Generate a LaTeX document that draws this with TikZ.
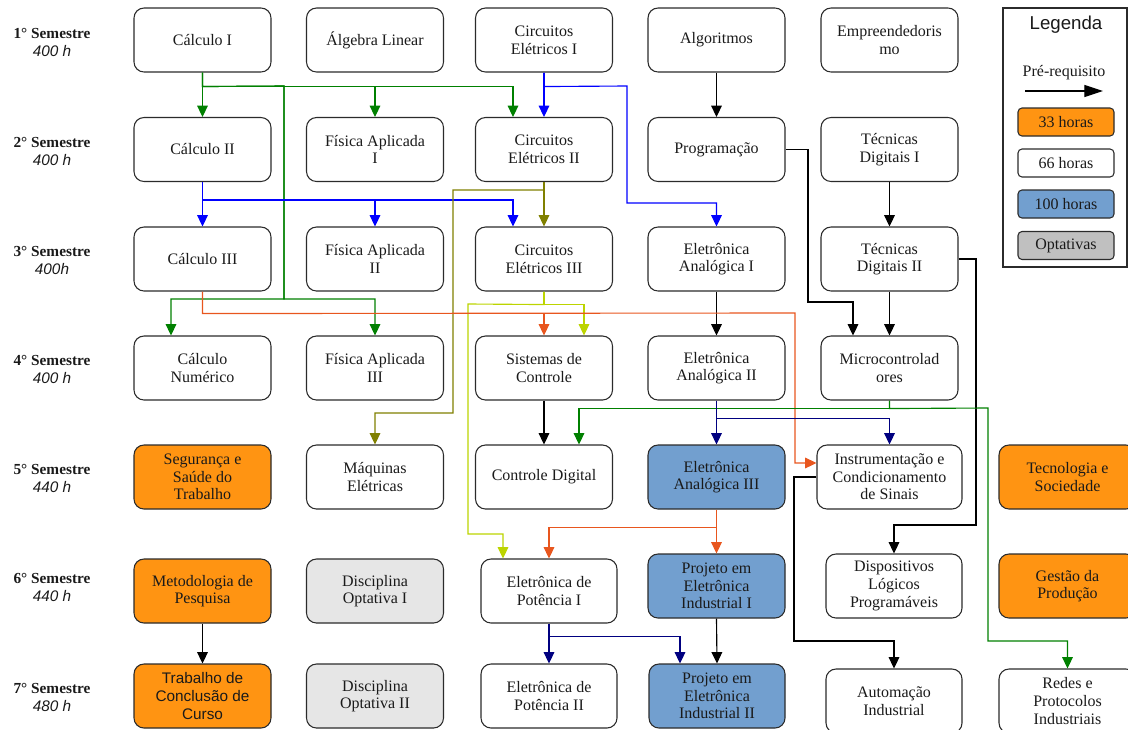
\documentclass[tikz,border=0pt]{standalone}
\usepackage{fontspec}
\setmainfont{Liberation Serif}
\newfontfamily\sansf{Liberation Sans}
\usetikzlibrary{arrows.meta,calc}
\definecolor{boxc}{HTML}{2B2B2B}
\definecolor{orangef}{HTML}{FF9412}
\definecolor{bluef}{HTML}{729FCF}
\definecolor{optf}{HTML}{E6E6E6}
\definecolor{optleg}{HTML}{C0C0C0}
\definecolor{cgrn}{HTML}{008000}
\definecolor{cblu}{HTML}{0000FF}
\definecolor{coli}{HTML}{808000}
\definecolor{cylg}{HTML}{BCD400}
\definecolor{cred}{HTML}{E8561E}
\definecolor{cnavy}{HTML}{000080}
\definecolor{txt}{HTML}{1A1A1A}
\tikzset{
  box/.style={draw=boxc, line width=0.8pt, rounded corners=7.5pt, fill=white,
    minimum width=102.75pt, minimum height=48pt, align=center, inner sep=1pt,
    text=txt, font=\fontsize{12pt}{13.2pt}\selectfont},
  sz/.style 2 args={minimum width=#1*0.75pt, minimum height=#2*0.75pt},
  obox/.style={box, fill=orangef},
  bbox/.style={box, fill=bluef},
  gbox/.style={box, fill=optf},
  conn/.style={line width=0.85pt, -{Triangle[length=8.5pt,width=8pt]}},
  semlab/.style={align=center, inner sep=0pt, text=txt, font=\fontsize{11.5pt}{13.5pt}\selectfont},
  legitem/.style={draw=boxc, line width=0.8pt, rounded corners=3pt, minimum width=72pt,
    minimum height=21pt, inner sep=0pt, text=txt, font=\fontsize{12pt}{13pt}\selectfont},
}
\begin{document}
\begin{tikzpicture}[x=0.75pt, y=-0.75pt]
\useasboundingbox (0,0) rectangle (1128,729);

% semester labels
\node[semlab] (s1) at (52,42) {\textbf{1° Semestre}\\{\sansf\itshape 400 h}};
\node[semlab] (s2) at (52,151) {\textbf{2° Semestre}\\{\sansf\itshape 400 h}};
\node[semlab] (s3) at (52,260) {\textbf{3° Semestre}\\{\sansf\itshape 400h}};
\node[semlab] (s4) at (52,369) {\textbf{4° Semestre}\\{\sansf\itshape 400 h}};
\node[semlab] (s5) at (52,478) {\textbf{5° Semestre}\\{\sansf\itshape 440 h}};
\node[semlab] (s6) at (52,587) {\textbf{6° Semestre}\\{\sansf\itshape 440 h}};
\node[semlab] (s7) at (52,697) {\textbf{7° Semestre}\\{\sansf\itshape 480 h}};

% row 1
\node[box] (calc1) at (202.5,40) {Cálculo I};
\node[box] (alg) at (375,40) {Álgebra Linear};
\node[box] (ce1) at (544,40) {Circuitos\\Elétricos I};
\node[box] (algo) at (716.5,40) {Algoritmos};
\node[box] (emp) at (889.5,40) {Empreendedoris\\mo};
% row 2
\node[box] (calc2) at (202.5,149.5) {Cálculo II};
\node[box] (fa1) at (375,149.5) {Física Aplicada\\I};
\node[box] (ce2) at (544,149.5) {Circuitos\\Elétricos II};
\node[box] (prog) at (716.5,149.5) {Programação};
\node[box] (td1) at (889.5,149.5) {Técnicas\\Digitais I};
% row 3
\node[box] (calc3) at (202.5,259) {Cálculo III};
\node[box] (fa2) at (375,259) {Física Aplicada\\II};
\node[box] (ce3) at (544,259) {Circuitos\\Elétricos III};
\node[box] (ea1) at (716.5,259) {Eletrônica\\Analógica I};
\node[box] (td2) at (889.5,259) {Técnicas\\Digitais II};
% row 4
\node[box] (cn) at (202.5,368) {Cálculo\\Numérico};
\node[box] (fa3) at (375,368) {Física Aplicada\\III};
\node[box] (sc) at (544,368) {Sistemas de\\Controle};
\node[box] (ea2) at (716.5,368) {Eletrônica\\Analógica II};
\node[box] (micro) at (889.5,368) {Microcontrolad\\ores};
% row 5
\node[obox] (seg) at (202.5,477) {Segurança e\\Saúde do\\Trabalho};
\node[box] (maq) at (375,477) {Máquinas\\Elétricas};
\node[box] (cd) at (544,477) {Controle Digital};
\node[bbox] (ea3) at (716.5,477) {Eletrônica\\Analógica III};
\node[box, sz={145}{64}] (inst) at (889.5,477) {Instrumentação e\\Condicionamento\\de Sinais};
\node[obox] (tec) at (1067.5,477) {Tecnologia e\\Sociedade};
% row 6
\node[obox] (met) at (202.5,591) {Metodologia de\\Pesquisa};
\node[gbox] (op1) at (375,591) {Disciplina\\Optativa I};
\node[box, sz={136}{64}] (ep1) at (549,591) {Eletrônica de\\Potência I};
\node[bbox] (pei1) at (716.5,586) {Projeto em\\Eletrônica\\Industrial I};
\node[box, sz={136}{64}] (dlp) at (894,586) {Dispositivos\\Lógicos\\Programáveis};
\node[obox] (gest) at (1067.5,586) {Gestão da\\Produção};
% row 7
\node[obox, font=\sansf\fontsize{11.5pt}{13.6pt}\selectfont] (tcc) at (202.5,696) {Trabalho de\\Conclusão de\\Curso};
\node[gbox] (op2) at (375,696) {Disciplina\\Optativa II};
\node[box, sz={136}{64}] (ep2) at (549,696) {Eletrônica de\\Potência II};
\node[bbox, sz={136}{64}] (pei2) at (717,696) {Projeto em\\Eletrônica\\Industrial II};
\node[box, sz={136}{64}] (aut) at (894,701) {Automação\\Industrial};
\node[box] (redes) at (1067.5,701) {Redes e\\Protocolos\\Industriais};

% legend
\node[draw=boxc, line width=0.8pt, minimum width=93pt, minimum height=194.25pt, inner sep=0pt] (leg) at (1065,137.5) {};
\node[font=\sansf\fontsize{14pt}{16pt}\selectfont, text=txt] (legt) at (1066,25) {Legenda};
\node[font=\fontsize{12pt}{14pt}\selectfont, text=txt] (legp) at (1064,73) {Pré-requisito};
\coordinate (la1) at (1025,91);
\coordinate (la2) at (1103,91);
\draw[line width=0.9pt, -{Triangle[length=14pt,width=9pt]}] (la1) -- (la2);
\node[legitem, fill=orangef] (l33) at (1066,122) {33 horas};
\node[legitem, fill=white] (l66) at (1066,163) {66 horas};
\node[legitem, fill=bluef] (l100) at (1066,204) {100 horas};
\node[legitem, fill=optleg] (lopt) at (1066,245.5) {Optativas};

% ---- connectors ----
% green from Calculo I
\draw[conn, cgrn] (calc1.south) -- (calc2.north);
\draw[conn, cgrn] (calc1.south) -- ++(0,14) -| (fa1.north);
\draw[conn, cgrn] (calc1.south) -- ++(0,14) -| ($(ce2.north)+(-31,0)$);
\draw[conn, cgrn] (calc1.south) -- ++(0,14) -- (284,86) -- (284,299) -| ($(cn.north)+(-31.5,0)$);
\draw[conn, cgrn] (calc1.south) -- ++(0,14) -- (284,86) -- (284,299) -| (fa3.north);
% blue from Circuitos Eletricos I
\draw[conn, cblu] (ce1.south) -- (ce2.north);
\draw[conn, cblu] (ce1.south) -- ++(0,14) -- (627,86) -- (627,203) -| (ea1.north);
% blue from Calculo II
\draw[conn, cblu] (calc2.south) -- (calc3.north);
\draw[conn, cblu] (calc2.south) -- ++(0,18) -| (fa2.north);
\draw[conn, cblu] (calc2.south) -- ++(0,18) -| ($(ce3.north)+(-31,0)$);
% olive from Circuitos Eletricos II
\draw[conn, coli] (ce2.south) -- (ce3.north);
\draw[conn, coli] (ce2.south) -- ++(0,8) -- (453,190) -- (453,413) -| (maq.north);
% black
\draw[conn, black] (algo.south) -- (prog.north);
\draw[conn, black] (prog.east) -- (808,149.5) -- (808,302) -| ($(micro.north)+(-36.5,0)$);
\draw[conn, black] (td1.south) -- (td2.north);
\draw[conn, black] (td2.south) -- (micro.north);
\draw[conn, black] (td2.east) -- (976,259) -- (976,525) -| (dlp.north);
\draw[conn, black] (ea1.south) -- (ea2.north);
\draw[conn, black] (sc.south) -- (cd.north);
\draw[conn, black] (inst.west) -- (794,477) -- (794,641) -| (aut.north);
\draw[conn, black] (met.south) -- (tcc.north);
\draw[conn, black] (pei1.south) -- (pei2.north);
% yellow-green from Circuitos Eletricos III
\draw[conn, cylg] (ce3.south) -- ++(0,13) -| ($(sc.north)+(40,0)$);
\draw[conn, cylg] (ce3.south) -- ++(0,13) -- (468,304) -- (468,534) -| ($(ep1.north)+(-46,0)$);
% red from Calculo III
\draw[conn, cred] (calc3.south) -- ++(0,22) -| (sc.north);
\draw[conn, cred] (calc3.south) -- ++(0,22) -- (795,313) |- ($(inst.west)+(0,-14)$);
% green from Microcontroladores
\draw[conn, cgrn] (micro.south) -- ++(0,8) -| ($(cd.north)+(35,0)$);
\draw[conn, cgrn] (micro.south) -- ++(0,8) -- (988,408) -- (988,641) -| (redes.north);
% navy from Eletronica Analogica II
\draw[conn, cnavy] (ea2.south) -- (ea3.north);
\draw[conn, cnavy] (ea2.south) -- ++(0,18) -| (inst.north);
% orange from Eletronica Analogica III
\draw[conn, cred] (ea3.south) -- (pei1.north);
\draw[conn, cred] (ea3.south) -- ++(0,18) -| (ep1.north);
% navy from Eletronica de Potencia I
\draw[conn, cnavy] (ep1.south) -- (ep2.north);
\draw[conn, cnavy] (ep1.south) -- ++(0,13) -| ($(pei2.north)+(-37,0)$);
\end{tikzpicture}
\end{document}
